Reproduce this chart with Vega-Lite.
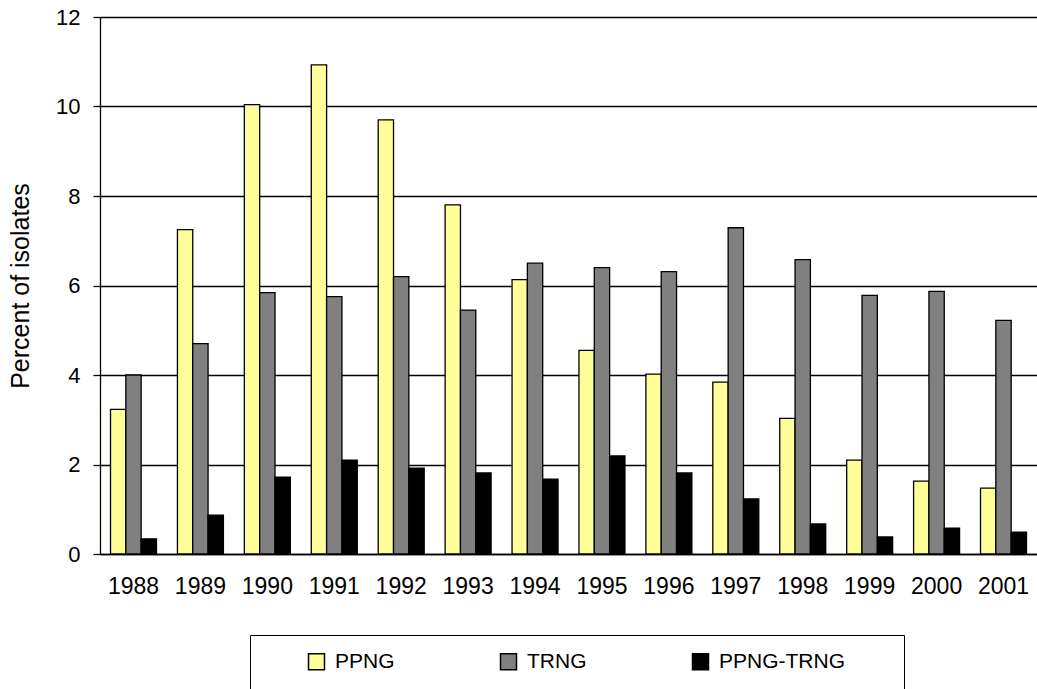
{
  "$schema": "https://vega.github.io/schema/vega-lite/v6.json",
  "autosize": {"type": "none"},
  "width": 937,
  "height": 537,
  "padding": {"left": 100, "top": 17, "right": 0, "bottom": 135},
  "background": "white",
  "config": {
    "view": {"stroke": null},
    "font": "Liberation Sans"
  },
  "data": {
    "values": [
      {"year": "1988", "series": "PPNG", "value": 3.23},
      {"year": "1988", "series": "TRNG", "value": 4.0},
      {"year": "1988", "series": "PPNG-TRNG", "value": 0.34},
      {"year": "1989", "series": "PPNG", "value": 7.25},
      {"year": "1989", "series": "TRNG", "value": 4.7},
      {"year": "1989", "series": "PPNG-TRNG", "value": 0.87},
      {"year": "1990", "series": "PPNG", "value": 10.04},
      {"year": "1990", "series": "TRNG", "value": 5.84},
      {"year": "1990", "series": "PPNG-TRNG", "value": 1.72},
      {"year": "1991", "series": "PPNG", "value": 10.93},
      {"year": "1991", "series": "TRNG", "value": 5.75},
      {"year": "1991", "series": "PPNG-TRNG", "value": 2.1},
      {"year": "1992", "series": "PPNG", "value": 9.7},
      {"year": "1992", "series": "TRNG", "value": 6.2},
      {"year": "1992", "series": "PPNG-TRNG", "value": 1.92},
      {"year": "1993", "series": "PPNG", "value": 7.8},
      {"year": "1993", "series": "TRNG", "value": 5.45},
      {"year": "1993", "series": "PPNG-TRNG", "value": 1.81},
      {"year": "1994", "series": "PPNG", "value": 6.13},
      {"year": "1994", "series": "TRNG", "value": 6.5},
      {"year": "1994", "series": "PPNG-TRNG", "value": 1.67},
      {"year": "1995", "series": "PPNG", "value": 4.55},
      {"year": "1995", "series": "TRNG", "value": 6.4},
      {"year": "1995", "series": "PPNG-TRNG", "value": 2.19},
      {"year": "1996", "series": "PPNG", "value": 4.02},
      {"year": "1996", "series": "TRNG", "value": 6.31},
      {"year": "1996", "series": "PPNG-TRNG", "value": 1.81},
      {"year": "1997", "series": "PPNG", "value": 3.84},
      {"year": "1997", "series": "TRNG", "value": 7.29},
      {"year": "1997", "series": "PPNG-TRNG", "value": 1.23},
      {"year": "1998", "series": "PPNG", "value": 3.03},
      {"year": "1998", "series": "TRNG", "value": 6.58},
      {"year": "1998", "series": "PPNG-TRNG", "value": 0.67},
      {"year": "1999", "series": "PPNG", "value": 2.1},
      {"year": "1999", "series": "TRNG", "value": 5.78},
      {"year": "1999", "series": "PPNG-TRNG", "value": 0.38},
      {"year": "2000", "series": "PPNG", "value": 1.63},
      {"year": "2000", "series": "TRNG", "value": 5.87},
      {"year": "2000", "series": "PPNG-TRNG", "value": 0.58},
      {"year": "2001", "series": "PPNG", "value": 1.47},
      {"year": "2001", "series": "TRNG", "value": 5.22},
      {"year": "2001", "series": "PPNG-TRNG", "value": 0.49}
    ]
  },
  "mark": {"type": "bar", "stroke": "black", "strokeWidth": 1.3},
  "encoding": {
    "x": {
      "field": "year",
      "type": "ordinal",
      "scale": {"paddingInner": 0.313, "paddingOuter": 0.157},
      "axis": {
        "title": null,
        "labelAngle": 0,
        "ticks": false,
        "labelPadding": 21,
        "labelFontSize": 23,
        "labelColor": "black",
        "domainColor": "black",
        "domainWidth": 1.3
      }
    },
    "xOffset": {
      "field": "series",
      "type": "nominal",
      "sort": ["PPNG", "TRNG", "PPNG-TRNG"],
      "scale": {"paddingInner": 0, "paddingOuter": 0}
    },
    "y": {
      "field": "value",
      "type": "quantitative",
      "scale": {"domain": [0, 12], "nice": false},
      "axis": {
        "title": "Percent of isolates",
        "titleFontSize": 25,
        "titleFontWeight": "normal",
        "titleColor": "black",
        "titlePadding": 22,
        "values": [0, 2, 4, 6, 8, 10, 12],
        "labelFontSize": 22,
        "labelColor": "black",
        "labelPadding": 13,
        "tickSize": 7,
        "tickColor": "black",
        "tickWidth": 1.3,
        "domainColor": "black",
        "domainWidth": 1.3,
        "grid": true,
        "gridColor": "black",
        "gridWidth": 1.3,
        "gridOpacity": 1
      }
    },
    "fill": {
      "field": "series",
      "type": "nominal",
      "sort": ["PPNG", "TRNG", "PPNG-TRNG"],
      "scale": {
        "domain": ["PPNG", "TRNG", "PPNG-TRNG"],
        "range": ["#FFFF99", "#808080", "#000000"]
      },
      "legend": {
        "orient": "none",
        "legendX": 150,
        "legendY": 618,
        "direction": "horizontal",
        "title": "\u00a0",
        "titleOrient": "right",
        "titleFontSize": 1,
        "titlePadding": 43,
        "padding": 16,
        "strokeColor": "black",
        "columnPadding": 63,
        "symbolType": "square",
        "symbolSize": 256,
        "symbolOffset": 40,
        "symbolStrokeColor": "black",
        "symbolStrokeWidth": 1.5,
        "labelFontSize": 21,
        "labelColor": "black",
        "labelOffset": 8
      }
    }
  }
}
